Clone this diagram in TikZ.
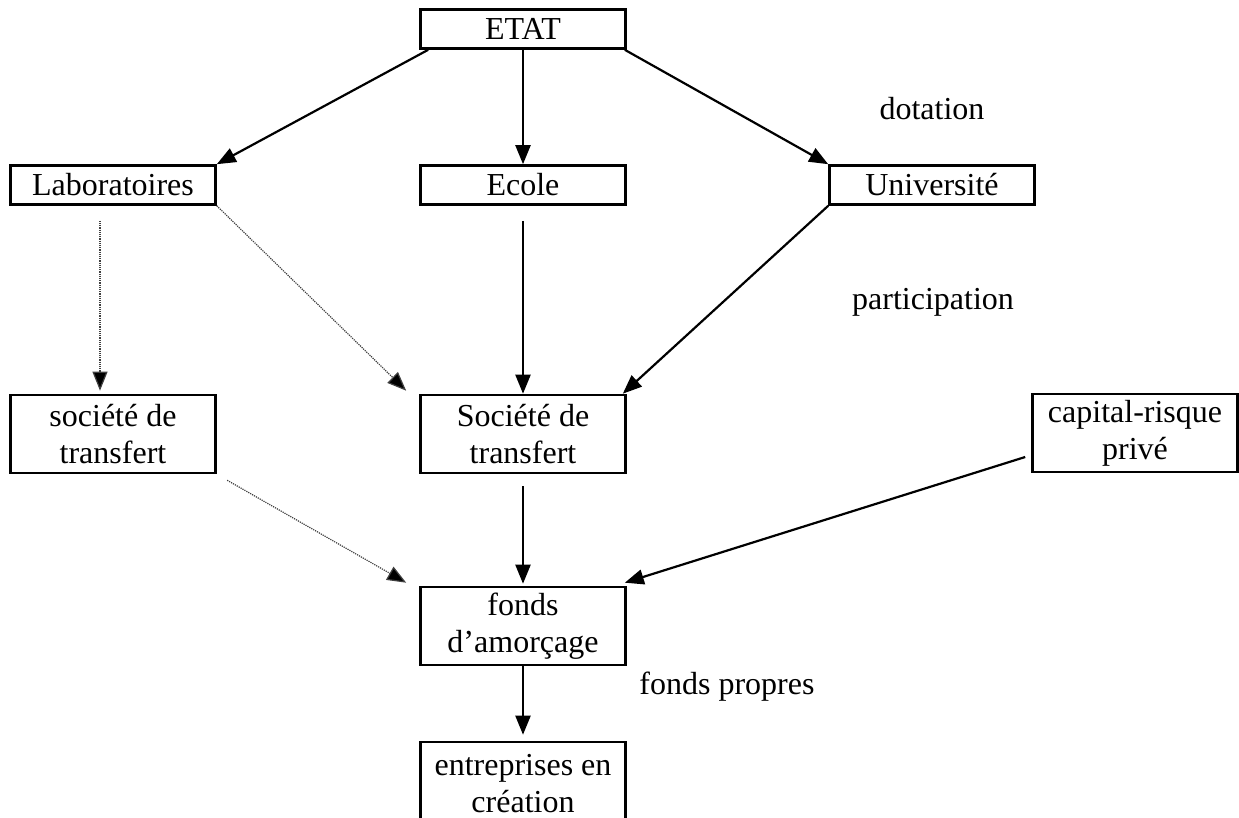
\documentclass[tikz,border=0pt]{standalone}
\usepackage{fontspec}
\setmainfont{Liberation Serif}
\usetikzlibrary{arrows.meta,calc}
\tikzset{
  box/.style={draw, line width=2.6pt, rectangle, inner sep=0pt, minimum width=205pt, align=center},
  one/.style={box, minimum height=39pt},
  two/.style={box, minimum height=78pt},
  arr/.style={line width=2.2pt, -{Triangle[length=19pt,width=15pt]}},
  dots/.style={line width=1.2pt, densely dotted, black!75, -{Triangle[length=19pt,width=15pt,fill=black]}},
  lbl/.style={inner sep=0pt}
}
\begin{document}
\begin{tikzpicture}[x=1pt,y=-1pt,font=\fontsize{32}{37}\selectfont]
\useasboundingbox (0,0) rectangle (1239,818);
\node[one] (etat) at (523,29) {ETAT};
\node[one] (lab) at (113,185) {Laboratoires};
\node[one] (ecole) at (523,185) {Ecole};
\node[one] (univ) at (932,185) {Université};
\node[two] (stl) at (113,434) {société de\\transfert};
\node[two] (stm) at (523,434) {Société de\\transfert};
\node[two] (cap) at (1135,433) {capital-risque\\privé};
\node[two] (fonds) at (523,626) {fonds\\d’amorçage};
\node[box, minimum height=84pt] (ent) at (523,784) {entreprises en\\création};
\node[lbl] (dot) at (932,109) {dotation};
\node[lbl] (part) at (933,302) {participation};
\node[lbl] (fp) at (727,687) {fonds propres};

\coordinate (labv) at ($(lab.south)+(-13,15)$);
\coordinate (stlt) at ($(stl.north)+(-13,-3)$);
\coordinate (stmtl) at ($(stm.north west)+(-13,-3)$);
\coordinate (fondstl) at ($(fonds.north west)+(-13,-3)$);
\coordinate (capw) at ($(cap.west)+(-6,24)$);

\draw[arr] ($(etat.south west)+(9,0)$) -- (lab.north east);
\draw[arr] (etat.south) -- (ecole.north);
\draw[arr] ($(etat.south east)+(-2,0)$) -- (univ.north west);
\draw[dots] (labv) -- (stlt);
\draw[dots] (lab.south east) -- (stmtl);
\draw[arr, shorten <=15pt] (ecole.south) -- (stm.north);
\draw[arr] (univ.south west) -- ($(stm.north east)+(-4,0)$);
\draw[arr, shorten <=12pt, shorten >=2pt] (stm.south) -- (fonds.north);
\draw[dots, shorten <=12pt] (stl.south east) -- (fondstl);
\draw[arr] (capw) -- ($(fonds.north east)+(-2,-3)$);
\draw[arr, shorten >=6pt] (fonds.south) -- (ent.north);
\end{tikzpicture}
\end{document}
